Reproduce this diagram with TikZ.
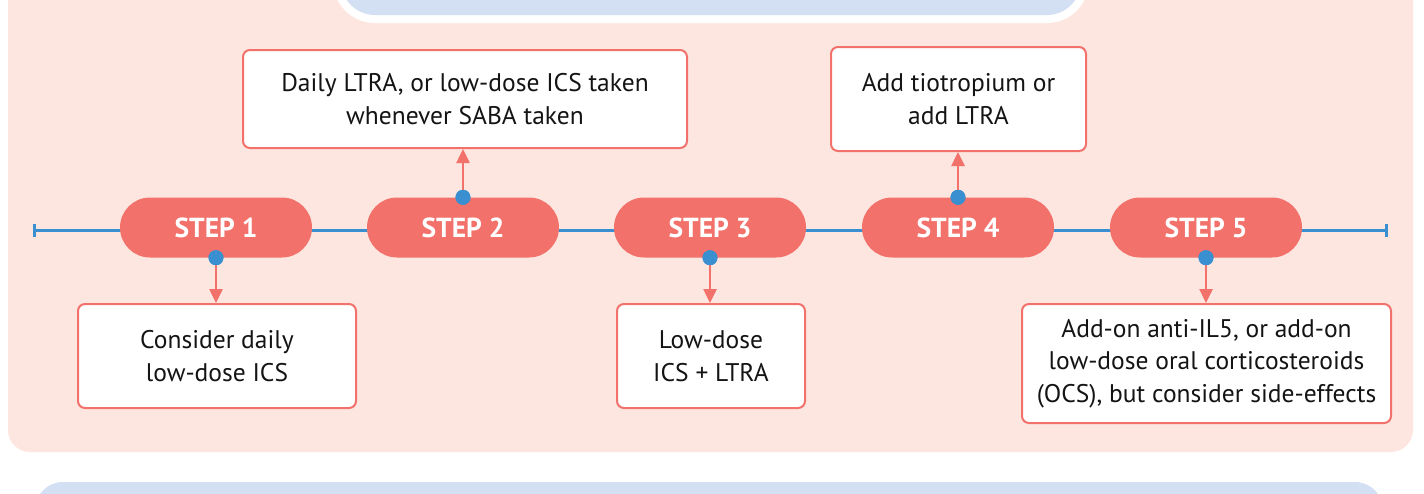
\documentclass[tikz,border=0pt]{standalone}
\usepackage{fontspec}
\setmainfont{PT Sans}
\usetikzlibrary{arrows.meta}
\definecolor{pinkbg}{HTML}{FDE6E0}
\definecolor{stepred}{HTML}{F2716B}
\definecolor{lineblue}{HTML}{3A8FD0}
\definecolor{panelblue}{HTML}{D3E0F3}
\definecolor{txt}{HTML}{141414}
\tikzset{
  pill/.style={rectangle, rounded corners=30pt, fill=stepred, text=white,
    minimum width=192pt, minimum height=60pt, inner sep=0pt,
    font=\fontsize{27.5}{32}\selectfont\bfseries},
  dot/.style={circle, fill=lineblue, minimum size=15pt, inner sep=0pt},
  infobox/.style={rectangle, rounded corners=7pt, draw=stepred, line width=2pt,
    fill=white, text=txt, align=center, inner sep=0pt,
    font=\fontsize{25.5}{32.5}\selectfont},
  arr/.style={draw=stepred, line width=2.5pt, -{Triangle[length=14pt,width=13pt]}},
  timeline/.style={draw=lineblue, line width=3pt, {Bar[width=13pt]}-{Bar[width=13pt]}}
}
\begin{document}
\begin{tikzpicture}[x=1pt,y=-1pt]
\useasboundingbox (0,0) rectangle (1424,493);
\clip (0,0) rectangle (1424,493);
\fill[white] (0,0) rectangle (1424,493);
% panels
\fill[pinkbg, rounded corners=22pt] (8,-60) rectangle (1413,452);
\fill[white, rounded corners=42pt] (333,-80) rectangle (1089,23);
\fill[panelblue, rounded corners=34pt] (341,-80) rectangle (1081,15);
\fill[panelblue, rounded corners=28pt] (35,482) rectangle (1383,560);
% timeline
\coordinate (tl) at (33,230);
\coordinate (tr) at (1388,230);
\draw[timeline] (tl) -- (tr);
% steps
\node[pill] (s1) at (216,227.5) {STEP 1};
\node[pill] (s2) at (463,227.5) {STEP 2};
\node[pill] (s3) at (710,227.5) {STEP 3};
\node[pill] (s4) at (958,227.5) {STEP 4};
\node[pill] (s5) at (1206,227.5) {STEP 5};
% boxes
\node[infobox, minimum width=444pt, minimum height=98pt] (b2) at (465,99)
  {Daily LTRA, or low-dose ICS taken\\whenever SABA taken};
\node[infobox, minimum width=255pt, minimum height=104pt] (b4) at (958.5,99)
  {Add tiotropium or\\add LTRA};
\node[infobox, minimum width=278pt, minimum height=104pt] (b1) at (217,356)
  {Consider daily\\low-dose ICS};
\node[infobox, minimum width=188pt, minimum height=104pt] (b3) at (711,356)
  {Low-dose\\ICS + LTRA};
\node[infobox, minimum width=369pt, minimum height=119pt] (b5) at (1206.5,363.5)
  {Add-on anti-IL5, or add-on\\low-dose oral corticosteroids\\(OCS), but consider side-effects};
% dots
\node[dot] (d1) at (s1.south) {};
\node[dot] (d2) at (s2.north) {};
\node[dot] (d3) at (s3.south) {};
\node[dot] (d4) at (s4.north) {};
\node[dot] (d5) at (s5.south) {};
% arrows
\draw[arr] (d1.center) -- (d1 |- b1.north);
\draw[arr] (d2.center) -- (d2 |- b2.south);
\draw[arr] (d3.center) -- (d3 |- b3.north);
\draw[arr] (d4.center) -- (d4 |- b4.south);
\draw[arr] (d5.center) -- (d5 |- b5.north);
\foreach \d in {d1,d2,d3,d4,d5} \node[dot] at (\d) {};
\end{tikzpicture}
\end{document}
